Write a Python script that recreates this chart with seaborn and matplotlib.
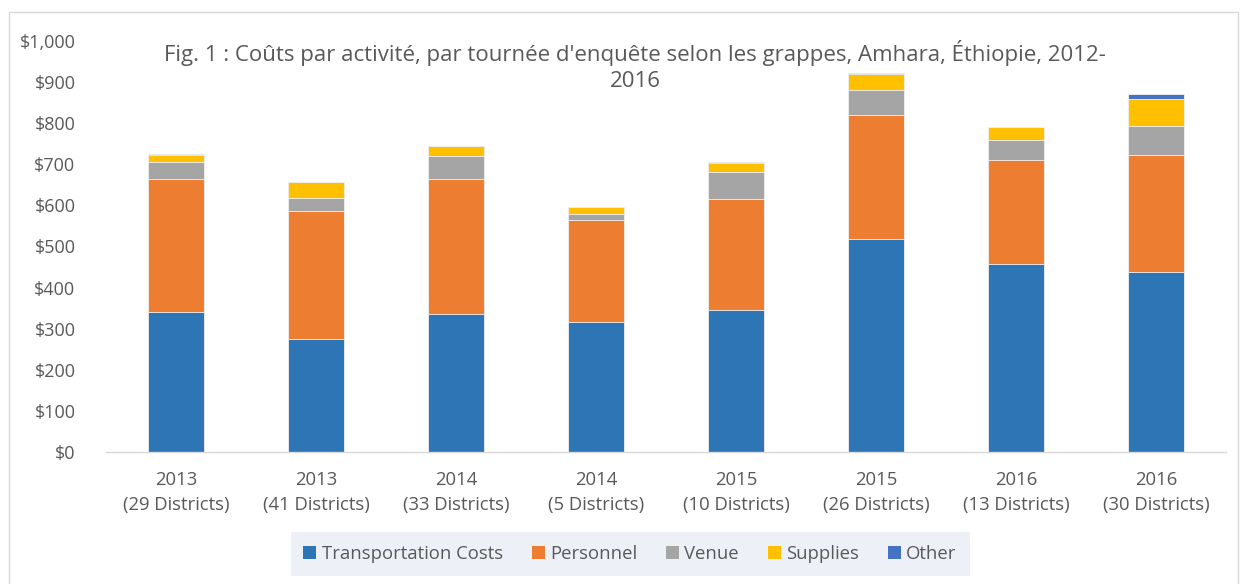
import matplotlib
matplotlib.use("Agg")
import matplotlib.pyplot as plt
from matplotlib.patches import Patch, Rectangle
import numpy as np
import pandas as pd
import seaborn as sns

# Survey rounds (year and number of districts)
categories = [
    "2013\n(29 Districts)", "2013\n(41 Districts)", "2014\n(33 Districts)",
    "2014\n(5 Districts)", "2015\n(10 Districts)", "2015\n(26 Districts)",
    "2016\n(13 Districts)", "2016\n(30 Districts)",
]

# Cost per activity (USD)
transportation = [341, 275, 336, 316, 345, 519, 457, 438]
personnel = [324, 311, 328, 248, 270, 302, 254, 285]
venue = [41, 33, 57, 16, 66, 59, 49, 71]
supplies = [17, 38, 23, 17, 23, 39, 30, 66]
other = [2, 0, 1, 0, 2, 2, 0, 11]

series_names = ["Transportation Costs", "Personnel", "Venue", "Supplies", "Other"]
series_values = [transportation, personnel, venue, supplies, other]
colors = ["#2E75B6", "#ED7D31", "#A5A5A5", "#FFC000", "#4472C4"]

title = ("Fig. 1 : Coûts par activité, par tournée d'enquête selon les grappes, "
         "Amhara, Éthiopie, 2012-\n2016")

sns.set_theme(style="white")
plt.rcParams["font.family"] = ["Open Sans", "DejaVu Sans"]

fig = plt.figure(figsize=(12.44, 5.84), dpi=100)
ax = fig.add_axes([106 / 1244, 1 - 452 / 584, 1120 / 1244, 411 / 584])

# Stacked bars: draw cumulative totals from the top layer down
cum = np.cumsum(np.array(series_values), axis=0)
for i in range(len(series_names) - 1, -1, -1):
    df = pd.DataFrame({"cat": categories, "value": cum[i]})
    sns.barplot(data=df, x="cat", y="value", order=categories, color=colors[i],
                width=0.4, edgecolor="#F2F2F2", linewidth=0.6,
                saturation=1, ax=ax)

ax.set_ylim(0, 1000)
ax.set_xlim(-0.5, len(categories) - 0.5)
ax.set_yticks(np.arange(0, 1001, 100))
ax.set_yticklabels([f"${v:,}" for v in range(0, 1001, 100)])
ax.set_xlabel("")
ax.set_ylabel("")
for s in ["top", "right", "left"]:
    ax.spines[s].set_visible(False)
ax.spines["bottom"].set_color("#D9D9D9")
ax.spines["bottom"].set_linewidth(1)
ax.tick_params(axis="both", colors="#595959", length=0)
ax.tick_params(axis="x", pad=14, labelsize=13.3)
ax.tick_params(axis="y", pad=22, labelsize=13)
for lbl in ax.get_xticklabels():
    lbl.set_linespacing(1.5)

fig.text(635 / 1244, 1 - 66 / 584, title, ha="center", va="center",
         fontsize=16, color="#595959", linespacing=1.3)

handles = [Patch(facecolor=c, edgecolor="none") for c in colors]
leg = fig.legend(handles, series_names, loc="center",
                 bbox_to_anchor=(630 / 1244, 1 - 554 / 584), ncol=5,
                 frameon=True, fontsize=13.3, handlelength=0.7,
                 handleheight=0.7, handletextpad=0.3, columnspacing=1.55,
                 borderpad=0.7, fancybox=False)
leg.get_frame().set_facecolor("#E9EDF5")
leg.get_frame().set_edgecolor("none")
for t in leg.get_texts():
    t.set_color("#595959")

# Chart area border
fig.patches.append(Rectangle((9 / 1244, -0.01), 1229 / 1244, 1 - 12 / 584 + 0.01,
                             transform=fig.transFigure, fill=False,
                             edgecolor="#D9D9D9", linewidth=1))

fig.savefig("out.png", dpi=100)
